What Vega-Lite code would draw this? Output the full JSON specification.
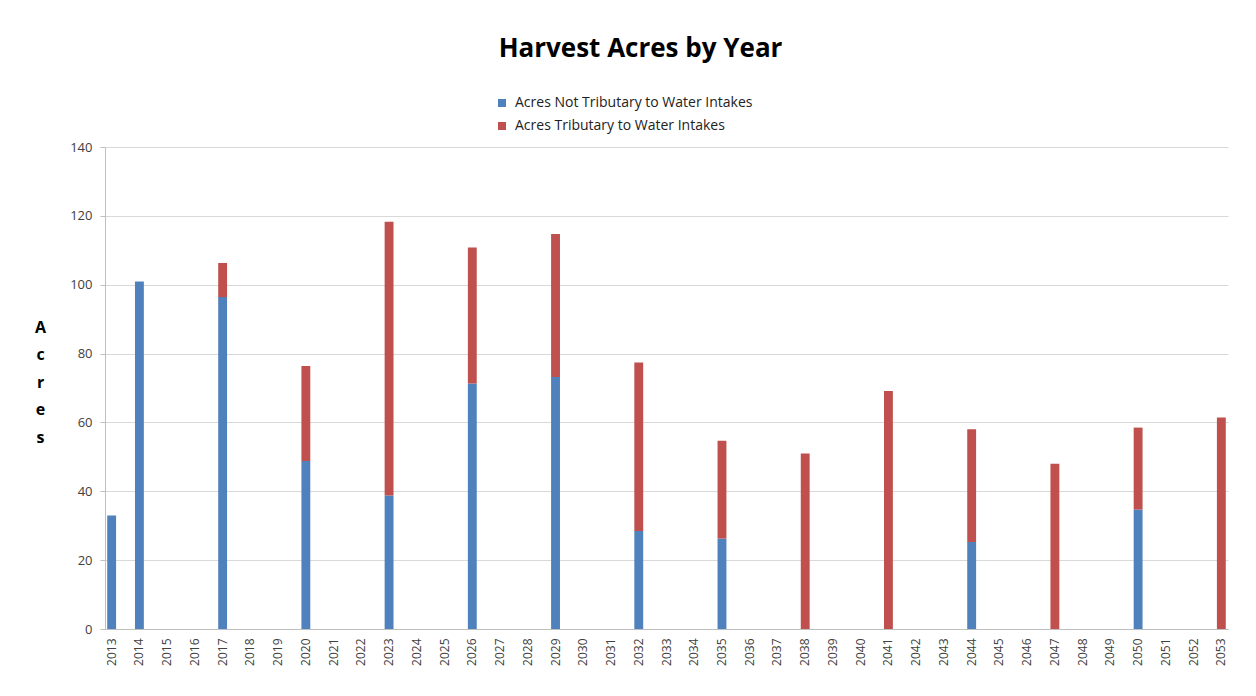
{
  "$schema": "https://vega.github.io/schema/vega-lite/v6.json",
  "autosize": {"type": "none"},
  "width": 1123,
  "height": 482,
  "padding": {"left": 105, "top": 147, "right": 28, "bottom": 67},
  "background": "white",
  "title": {
    "text": "Harvest Acres by Year",
    "font": "Open Sans",
    "fontSize": 26,
    "fontWeight": "bold",
    "color": "#000000",
    "anchor": "middle",
    "frame": "group",
    "baseline": "alphabetic",
    "offset": 13,
    "dx": -26
  },
  "data": {
    "values": [
      {"year": "2013", "series": "Acres Not Tributary to Water Intakes", "acres": 33.0},
      {"year": "2014", "series": "Acres Not Tributary to Water Intakes", "acres": 100.9},
      {"year": "2017", "series": "Acres Not Tributary to Water Intakes", "acres": 96.4},
      {"year": "2017", "series": "Acres Tributary to Water Intakes", "acres": 9.9},
      {"year": "2020", "series": "Acres Not Tributary to Water Intakes", "acres": 48.8},
      {"year": "2020", "series": "Acres Tributary to Water Intakes", "acres": 27.6},
      {"year": "2023", "series": "Acres Not Tributary to Water Intakes", "acres": 38.8},
      {"year": "2023", "series": "Acres Tributary to Water Intakes", "acres": 79.5},
      {"year": "2026", "series": "Acres Not Tributary to Water Intakes", "acres": 71.3},
      {"year": "2026", "series": "Acres Tributary to Water Intakes", "acres": 39.5},
      {"year": "2029", "series": "Acres Not Tributary to Water Intakes", "acres": 73.2},
      {"year": "2029", "series": "Acres Tributary to Water Intakes", "acres": 41.5},
      {"year": "2032", "series": "Acres Not Tributary to Water Intakes", "acres": 28.5},
      {"year": "2032", "series": "Acres Tributary to Water Intakes", "acres": 48.9},
      {"year": "2035", "series": "Acres Not Tributary to Water Intakes", "acres": 26.3},
      {"year": "2035", "series": "Acres Tributary to Water Intakes", "acres": 28.4},
      {"year": "2038", "series": "Acres Tributary to Water Intakes", "acres": 51.0},
      {"year": "2041", "series": "Acres Tributary to Water Intakes", "acres": 69.1},
      {"year": "2044", "series": "Acres Not Tributary to Water Intakes", "acres": 25.3},
      {"year": "2044", "series": "Acres Tributary to Water Intakes", "acres": 32.7},
      {"year": "2047", "series": "Acres Tributary to Water Intakes", "acres": 48.0},
      {"year": "2050", "series": "Acres Not Tributary to Water Intakes", "acres": 34.7},
      {"year": "2050", "series": "Acres Tributary to Water Intakes", "acres": 23.8},
      {"year": "2053", "series": "Acres Tributary to Water Intakes", "acres": 61.4}
    ]
  },
  "mark": {"type": "bar"},
  "encoding": {
    "x": {
      "field": "year",
      "type": "ordinal",
      "scale": {
        "domain": ["2013","2014","2015","2016","2017","2018","2019","2020","2021","2022","2023","2024","2025","2026","2027","2028","2029","2030","2031","2032","2033","2034","2035","2036","2037","2038","2039","2040","2041","2042","2043","2044","2045","2046","2047","2048","2049","2050","2051","2052","2053"],
        "paddingInner": 0.68,
        "paddingOuter": 0.08
      },
      "axis": {
        "title": null,
        "labelAngle": -90,
        "labelFont": "Open Sans",
        "labelFontSize": 12,
        "labelColor": "#404040",
        "labelPadding": 9,
        "ticks": false,
        "domainColor": "#BFBFBF",
        "domainWidth": 1,
        "grid": false
      }
    },
    "y": {
      "field": "acres",
      "type": "quantitative",
      "stack": "zero",
      "scale": {"domain": [0, 140]},
      "axis": {
        "values": [0, 20, 40, 60, 80, 100, 120, 140],
        "title": ["A", "c", "r", "e", "s"],
        "titleAngle": 0,
        "titleAlign": "center",
        "titleBaseline": "top",
        "titleX": -65,
        "titleY": 172,
        "titleFont": "Open Sans",
        "titleFontSize": 16,
        "titleFontWeight": "bold",
        "titleColor": "#000000",
        "titleLineHeight": 27.5,
        "labelFont": "Open Sans",
        "labelFontSize": 13,
        "labelColor": "#404040",
        "labelPadding": 8,
        "tickSize": 5,
        "tickColor": "#BFBFBF",
        "domainColor": "#BFBFBF",
        "grid": true,
        "gridColor": "#D9D9D9",
        "gridWidth": 1.2
      }
    },
    "color": {
      "field": "series",
      "type": "nominal",
      "scale": {
        "domain": ["Acres Not Tributary to Water Intakes", "Acres Tributary to Water Intakes"],
        "range": ["#4F81BD", "#C0504D"]
      },
      "legend": {
        "title": null,
        "orient": "none",
        "legendX": 390,
        "legendY": -51,
        "direction": "vertical",
        "symbolType": "square",
        "symbolSize": 64,
        "symbolStrokeWidth": 0,
        "labelFont": "Open Sans",
        "labelFontSize": 14,
        "labelColor": "#222222",
        "labelLimit": 400,
        "rowPadding": 9,
        "labelOffset": 6
      }
    },
    "order": {"field": "series", "sort": "ascending"}
  },
  "config": {
    "view": {"stroke": null}
  }
}
